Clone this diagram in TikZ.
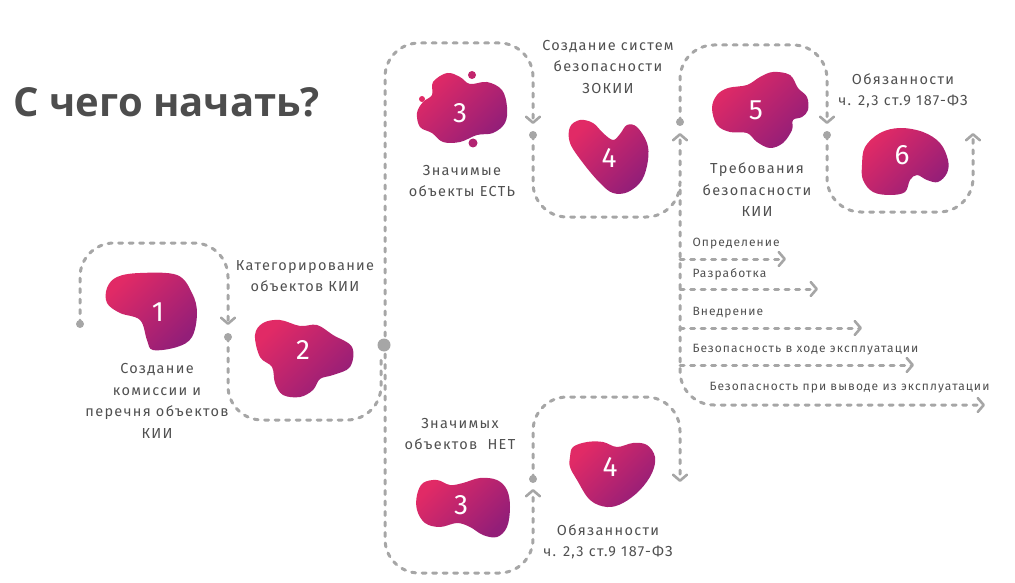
\documentclass[tikz,border=0pt]{standalone}
\usepackage{fontspec}
\setmainfont{Fira Sans}
\newfontfamily\titlefont{Open Sans}
\newfontfamily\lblfont[LetterSpace=9]{Fira Sans}
\usetikzlibrary{arrows.meta}

\definecolor{dotgray}{HTML}{A6A6A6}
\definecolor{txtgray}{HTML}{505050}
\definecolor{titlegray}{HTML}{4D4D4D}
\definecolor{blobA}{HTML}{E12A66}
\definecolor{blobB}{HTML}{931E78}

\tikzset{
	flow/.style={draw=dotgray, line width=3pt, line cap=round, dash pattern=on 4pt off 6.5pt, rounded corners=34pt},
	tip/.style={-{Straight Barb[length=6pt, width=14pt, line width=2.6pt, round]}},
	blob/.style={top color=blobA, bottom color=blobB, shading angle=45},
	num/.style={text=white, font=\fontsize{28}{28}\selectfont},
	lbl/.style={text=txtgray, align=center, font=\lblfont\fontsize{14.5}{21.5}\selectfont},
	sublbl/.style={text=txtgray, anchor=west, font=\lblfont\fontsize{12}{14}\selectfont}
}

\begin{document}
\begin{tikzpicture}[x=1pt, y=-1pt]
\useasboundingbox (0,0) rectangle (1015,583);

\node[anchor=base west, text=titlegray, font=\titlefont\bfseries\fontsize{40}{40}\selectfont] (title) at (10,117) {С чего начать?};

\shade[blob] plot[smooth cycle, tension=0.6] coordinates {(107,288) (117,277) (140,273) (177,275) (192,293) (197,313) (192,337) (177,347) (153,350) (147,340) (140,320) (120,313) (107,303)};
\shade[blob] plot[smooth cycle, tension=0.6] coordinates {(255,335) (263,323) (280,320) (300,326) (317,325) (333,335) (352,347) (350,367) (333,375) (320,379) (313,390) (300,397) (283,395) (275,383) (272,367) (260,357)};
\shade[blob] plot[smooth cycle, tension=0.6] coordinates {(417,113) (423,102) (432,95) (433,82) (447,73) (460,77) (470,84) (487,82) (502,90) (507,107) (505,123) (493,133) (477,135) (460,142) (443,142) (432,133) (420,127)};
\fill[blobA!60!blobB] (472,75) circle (4pt);
\fill[blobA] (422,99) circle (3pt);
\fill[blobA!40!blobB] (473,143) circle (4.5pt);
\shade[blob] plot[smooth cycle, tension=0.6] coordinates {(570,127) (580,120) (593,123) (603,133) (613,140) (620,134) (627,125) (637,127) (647,143) (648,160) (642,180) (628,192) (613,193) (600,183) (583,163) (570,143)};
\shade[blob] plot[smooth cycle, tension=0.6] coordinates {(712,108) (717,95) (728,88) (747,85) (760,77) (773,72) (790,75) (798,88) (807,97) (808,110) (802,117) (793,120) (792,130) (783,143) (770,148) (757,142) (747,133) (730,132) (717,125)};
\shade[blob] plot[smooth cycle, tension=0.6] coordinates {(862,165) (865,147) (880,133) (900,128) (923,132) (940,143) (948,160) (947,173) (938,182) (927,180) (917,175) (910,180) (905,192) (890,195) (873,192) (863,180)};
\shade[blob] plot[smooth cycle, tension=0.6] coordinates {(417,495) (423,483) (437,480) (450,485) (463,483) (480,478) (497,480) (507,490) (510,507) (507,527) (497,537) (483,535) (470,527) (457,523) (440,527) (425,523) (417,510)};
\shade[blob] plot[smooth cycle, tension=0.6] coordinates {(570,457) (573,447) (587,442) (603,442) (617,447) (633,443) (647,445) (655,457) (652,473) (640,490) (623,503) (607,507) (590,500) (577,480) (570,467)};

\foreach \name/\x/\y/\n in {n1/158/312/1, n2/303/350/2, n3/460/113/3, n4/609/158/4, n5/756/110/5, n6/902/155/6, n7/461/505/3, n8/610/467/4}
	\node[num] (\name) at (\x,\y) {\n};

\node[lbl] (lcom) at (157,401) {Создание\\комиссии и\\перечня объектов\\КИИ};
\node[lbl] (lcat) at (305,276) {Категорирование\\объектов КИИ};
\node[lbl] (lyes) at (462,181) {Значимые\\объекты ЕСТЬ};
\node[lbl] (lsys) at (608,67) {Создание систем\\безопасности\\ЗОКИИ};
\node[lbl] (lreq) at (757,190) {Требования\\безопасности\\КИИ};
\node[lbl] (lduty) at (903,91) {Обязанности\\ч. 2,3 ст.9 187-ФЗ};
\node[lbl] (lno) at (460,434) {Значимых\\объектов~~НЕТ};
\node[lbl] (lduty2) at (608,542) {Обязанности\\ч. 2,3 ст.9 187-ФЗ};

\coordinate (d1) at (80,324);
\coordinate (a1) at (228,325);
\coordinate (d2) at (228,337);
\coordinate (hub) at (384,345);
\coordinate (hubin) at (381,356);
\coordinate (hubup) at (385,336);
\coordinate (hubdn) at (385,354);
\coordinate (a3) at (533,124);
\coordinate (d3) at (533,135);
\coordinate (a4) at (533,489);
\coordinate (d4) at (533,479);
\coordinate (a5) at (680,133);
\coordinate (d5) at (680,122);
\coordinate (a6) at (827,124);
\coordinate (d6) at (827,135);
\coordinate (a7) at (973,133);
\coordinate (a8) at (680,482);
\coordinate (junc) at (680,190);
\coordinate (a9) at (985,405);

\draw[flow, tip] (d1) -- (80,243) -- (228,243) -- (a1);
\draw[flow] (d2) -- (228,420) -- (381,420) -- (hubin);
\draw[flow, tip] (hubup) -- (385,43) -- (533,43) -- (a3);
\draw[flow, tip] (hubdn) -- (385,573) -- (533,573) -- (a4);
\draw[flow, tip] (d3) -- (533,217) -- (680,217) -- (a5);
\draw[flow, tip] (d5) -- (680,45) -- (827,45) -- (a6);
\draw[flow, tip] (d6) -- (827,212) -- (973,212) -- (a7);
\draw[flow, tip] (d4) -- (533,397) -- (680,397) -- (a8);
\draw[flow, tip] (junc) -- (680,405) -- (a9);

\foreach \y/\xe/\txt in {259/786/Определение, 289/818/Разработка, 328/862/Внедрение, 365/914/Безопасность в ходе эксплуатации}{
	\coordinate (b\y) at (680,\y);
	\coordinate (e\y) at (\xe,\y);
	\draw[flow, tip, rounded corners=0pt] (b\y) -- (e\y);
	\node[sublbl] (s\y) at (689,\y-15) {\txt};
}
\node[sublbl] (s405) at (706,388) {Безопасность при выводе из эксплуатации};

\foreach \c in {d1, d2, d3, d4, d5, d6}
	\fill[dotgray] (\c) circle (4pt);
\fill[dotgray] (hub) circle (6.5pt);

\end{tikzpicture}
\end{document}
